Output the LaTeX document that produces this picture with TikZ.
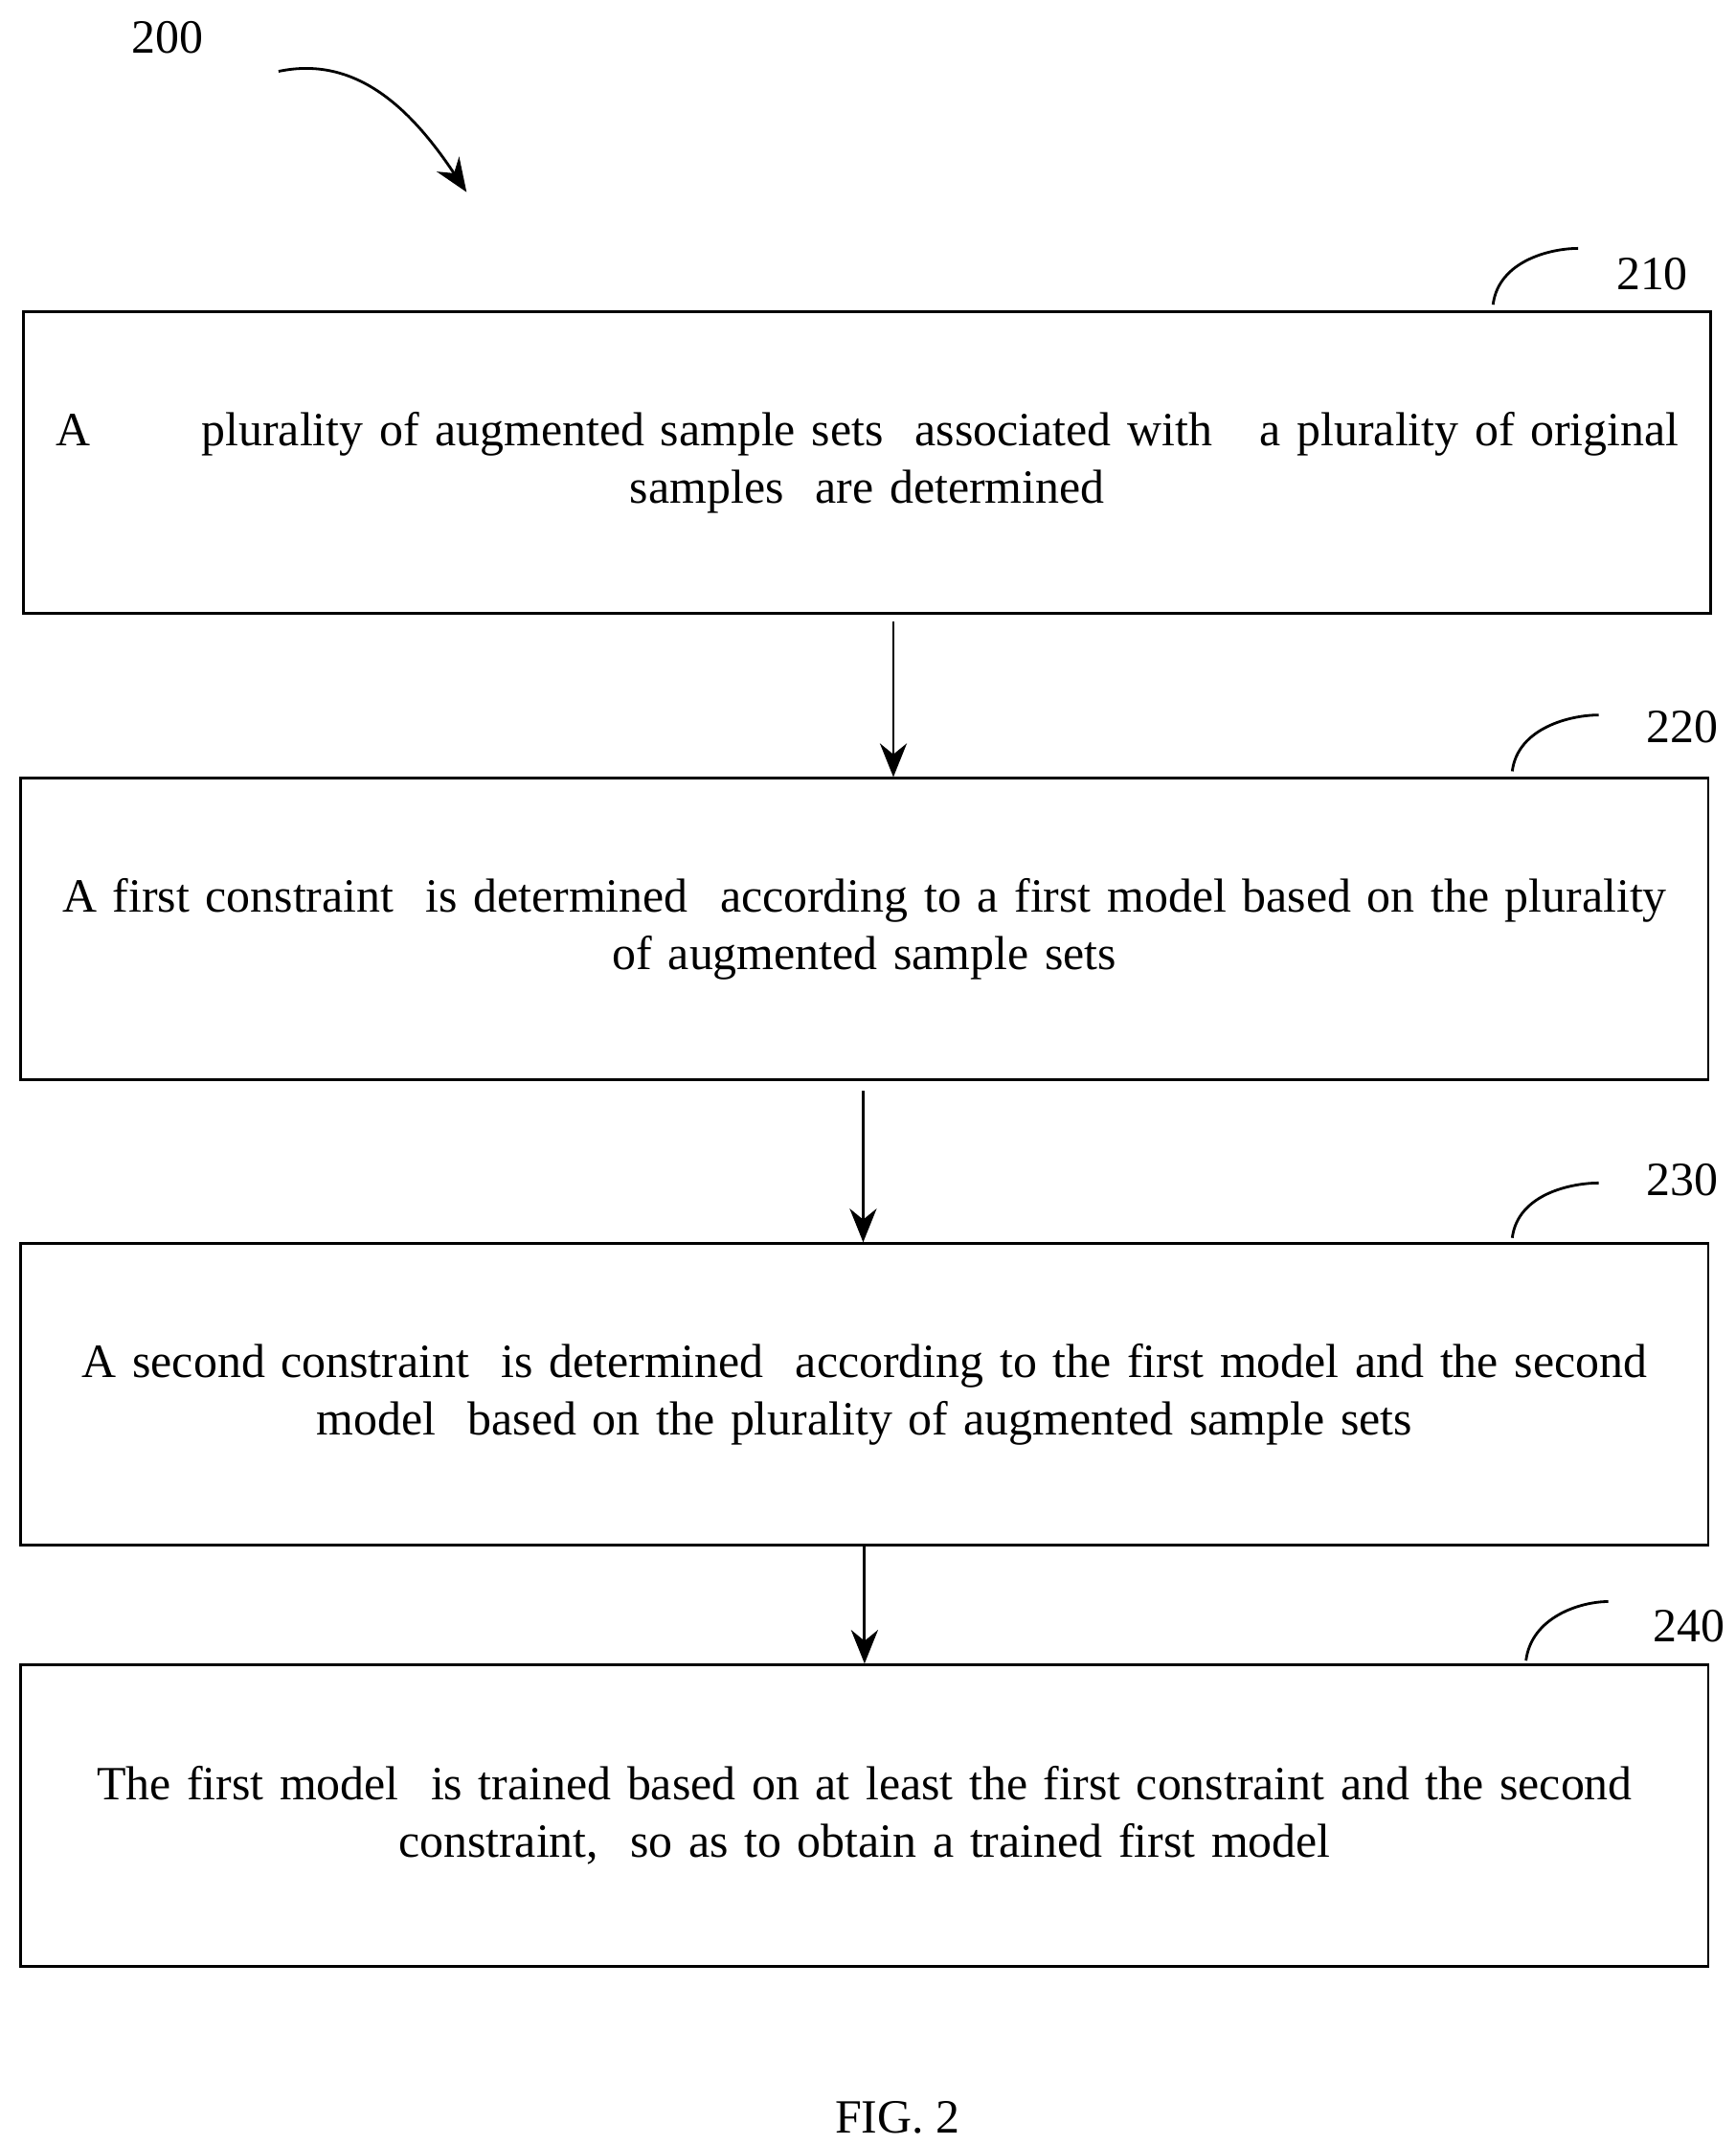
\documentclass[tikz,border=0pt]{standalone}
\usepackage{fontspec}
\setmainfont{Liberation Serif}
\usetikzlibrary{positioning,arrows.meta}
\begin{document}
\begin{tikzpicture}[x=0.01434cm,y=-0.01434cm,
    every node/.style={font=\fontsize{14.2}{17.2}\selectfont},
    stepbox/.style={draw,thick,minimum width=17.55cm,minimum height=3.15cm,align=center,text width=17.4cm},
    flow/.style={thick,-{Stealth[length=10pt,width=8pt]}}]
  \useasboundingbox (0,0) rectangle (1265,1563);
  % reference numeral
  \node (n200) at (122,27) {200};
  \coordinate (a0) at (203,52);
  \coordinate (a1) at (340,140);
  \draw[flow] (a0) .. controls (260,40) and (300,80) .. (a1);
  % steps
  \node[stepbox] (s210) at (632,337) {A \quad\quad plurality of augmented sample sets \ associated with \ \ a plurality of original\\samples \ are determined};
  \node[stepbox] (s220) at (630,677) {A first constraint \ is determined \ according to a first model based on the plurality\\of augmented sample sets};
  \node[stepbox] (s230) at (630,1016) {A second constraint \ is determined \ according to the first model and the second\\model \ based on the plurality of augmented sample sets};
  \node[stepbox] (s240) at (630,1323) {The first model \ is trained based on at least the first constraint and the second\\constraint, \ so as to obtain a trained first model};
  % step numerals
  \node (n210) at (1204,200) {210};
  \node (n220) at (1226,530) {220};
  \node (n230) at (1226,860) {230};
  \node (n240) at (1231,1185) {240};
  \draw[thick] (1088,222) .. controls (1092,190) and (1130,181) .. (1150,181);
  \draw[thick] (1102,562) .. controls (1106,530) and (1145,521) .. (1165,521);
  \draw[thick] (1102,902) .. controls (1106,870) and (1145,862) .. (1165,862);
  \draw[thick] (1112,1210) .. controls (1116,1178) and (1152,1167) .. (1172,1167);
  % connectors
  \coordinate (c1) at (651,453);
  \coordinate (c2) at (629,795);
  \draw[flow] (c1) -- (c1 |- s220.north);
  \draw[flow] (c2) -- (c2 |- s230.north);
  \draw[flow] (s230.south) -- (s240.north);
  \node (fig) at (654,1543) {FIG. 2};
\end{tikzpicture}
\end{document}
